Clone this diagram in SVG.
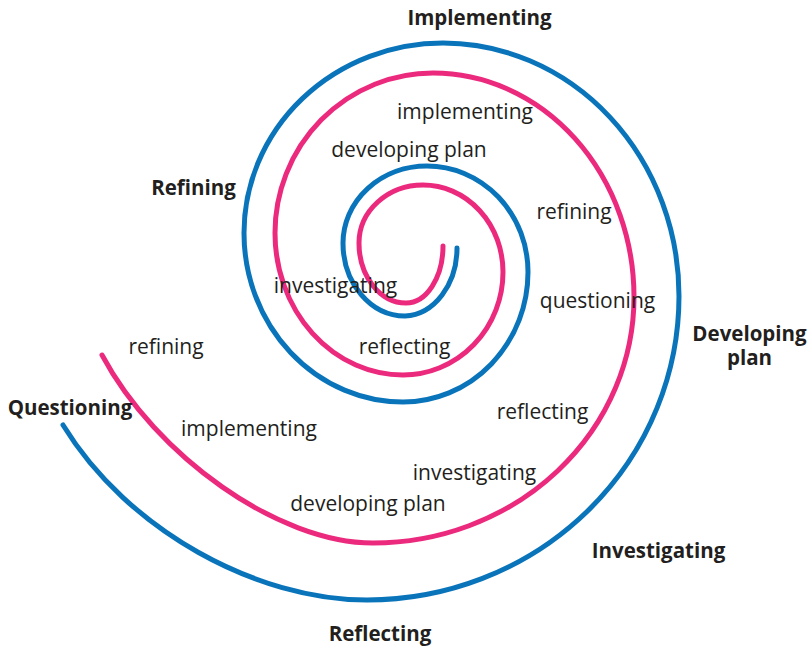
<svg xmlns="http://www.w3.org/2000/svg" width="811" height="648" viewBox="0 0 811 648">
<style>
.sp{fill:none;stroke-width:5;stroke-linecap:round;stroke-linejoin:round}
.blue{stroke:#0a74bb}
.pink{stroke:#ec2a7d}
text{font-family:"Open Sans","Liberation Sans",sans-serif;fill:#231f20;text-anchor:middle}
.b{font-size:20.5px;font-weight:bold}
.r{font-size:21px}
</style>
<rect width="811" height="648" fill="#ffffff"/>
<g id="connectors">
<path id="spiral-blue" class="sp blue" d="M 457 248 A 54 68 0 0 1 405 316 A 62 73 0 0 1 343 243 A 84 77 0 0 1 427 166 A 101 106 0 0 1 528 272 A 125 130 0 0 1 403 402 A 159 169 0 0 1 244 233 A 199 190 0 0 1 443 43 A 236 253 0 0 1 679 296 A 312 304 0 0 1 367 600 C 257 600 128 531 63 425"/>
<path id="spiral-pink" class="sp pink" d="M 443 246 A 37 57 0 0 1 406 303 A 47 60 0 0 1 359 243 A 64 58 0 0 1 423 185 A 80 87 0 0 1 503 272 A 100 103 0 0 1 403 375 A 128 142 0 0 1 275 233 A 158 160 0 0 1 433 73 A 201 224 0 0 1 634 297 A 261 246 0 0 1 373 543 C 278 543 156 456 102 355"/>
</g>
<g id="label-implementing-outer"><text class="b" x="479.5" y="25">Implementing</text></g>
<g id="label-refining-outer"><text class="b" x="193.5" y="195">Refining</text></g>
<g id="label-developing-plan-outer"><text class="b" x="749.5" y="341">Developing</text><text class="b" x="749.5" y="365">plan</text></g>
<g id="label-questioning-outer"><text class="b" x="70" y="415">Questioning</text></g>
<g id="label-investigating-outer"><text class="b" x="658.5" y="558">Investigating</text></g>
<g id="label-reflecting-outer"><text class="b" x="380" y="641">Reflecting</text></g>
<g id="label-implementing-1"><text class="r" x="465" y="119">implementing</text></g>
<g id="label-developing-plan-1"><text class="r" x="409" y="157">developing plan</text></g>
<g id="label-refining-1"><text class="r" x="574" y="219">refining</text></g>
<g id="label-investigating-1"><text class="r" x="335.5" y="293">investigating</text></g>
<g id="label-questioning-1"><text class="r" x="597.5" y="308">questioning</text></g>
<g id="label-reflecting-1"><text class="r" x="404.5" y="354">reflecting</text></g>
<g id="label-refining-2"><text class="r" x="166" y="354">refining</text></g>
<g id="label-reflecting-2"><text class="r" x="542.5" y="419">reflecting</text></g>
<g id="label-implementing-2"><text class="r" x="249" y="436">implementing</text></g>
<g id="label-investigating-2"><text class="r" x="474.5" y="480">investigating</text></g>
<g id="label-developing-plan-2"><text class="r" x="368" y="511">developing plan</text></g>
</svg>
